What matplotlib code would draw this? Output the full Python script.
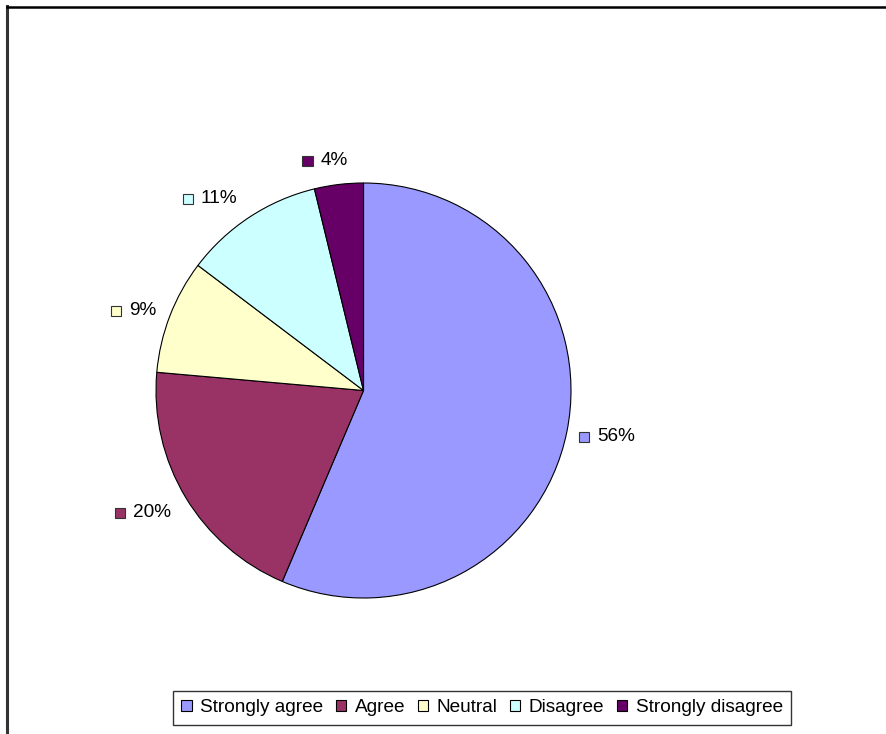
import matplotlib
matplotlib.use("Agg")
import matplotlib.pyplot as plt
from matplotlib.lines import Line2D
from matplotlib.patches import Rectangle
from matplotlib.offsetbox import HPacker, DrawingArea, TextArea, AnnotationBbox
import numpy as np

plt.rcParams['font.family'] = ['Liberation Sans', 'DejaVu Sans']

categories = ["Strongly agree", "Agree", "Neutral", "Disagree", "Strongly disagree"]
values = [56.4, 20.0, 8.9, 10.9, 3.8]
labels = ["56%", "20%", "9%", "11%", "4%"]
colors = ["#9999FF", "#993366", "#FFFFCC", "#CCFFFF", "#660066"]

W, H = 887, 734
fig = plt.figure(figsize=(W / 100, H / 100), dpi=100)

cx, cy, r = 363.5, 390.5, 207.5
ax = fig.add_axes([(cx - r) / W, (H - cy - r) / H, 2 * r / W, 2 * r / H])
wedges, _ = ax.pie(values, colors=colors, startangle=90, counterclock=False,
                   radius=1, wedgeprops=dict(edgecolor="black", linewidth=0.8))
ax.set_xlim(-1, 1)
ax.set_ylim(-1, 1)
ax.set_aspect("equal")
ax.axis("off")

fs = 13.7
for w, lab, col in zip(wedges, labels, colors):
    ang = np.deg2rad((w.theta1 + w.theta2) / 2)
    c, s = np.cos(ang), np.sin(ang)
    dist = (r + 9.5 + 15 * abs(s)) / r
    p = (dist * c, dist * s + 12 * min(0.0, s) / r)
    da = DrawingArea(8, 8, 0, 0)
    da.add_artist(Rectangle((0, 0), 7.3, 7.3, facecolor=col, edgecolor="#333333", linewidth=0.8))
    ta = TextArea(lab, textprops=dict(fontsize=fs, color="black"))
    box = HPacker(children=[da, ta], align="center", pad=0, sep=5)
    xal = 0.5 - 0.5 * np.clip(4 * c, -1, 1)
    ab = AnnotationBbox(box, p, xybox=p, xycoords="data", boxcoords="data",
                        box_alignment=(xal, 0.5), frameon=False, pad=0,
                        annotation_clip=False)
    ax.add_artist(ab)

leg = fig.legend(wedges, categories, loc="lower center", ncol=5,
                 bbox_to_anchor=(482 / W, (H - 725) / H), fontsize=fs,
                 frameon=True, fancybox=False, edgecolor="black",
                 handlelength=0.55, handleheight=0.55, handletextpad=0.45,
                 columnspacing=0.65, borderpad=0.45, borderaxespad=0)
leg.get_frame().set_linewidth(1.0)

# outer frame lines
fig.add_artist(Line2D([7.5 / W, 7.5 / W], [0, (H - 6) / H], color="#333333", linewidth=2.2,
                      transform=fig.transFigure))
fig.add_artist(Line2D([7.5 / W, 1], [(H - 6.5) / H, (H - 6.5) / H], color="black", linewidth=1.8,
                      transform=fig.transFigure))

fig.savefig("out.png", dpi=100)
